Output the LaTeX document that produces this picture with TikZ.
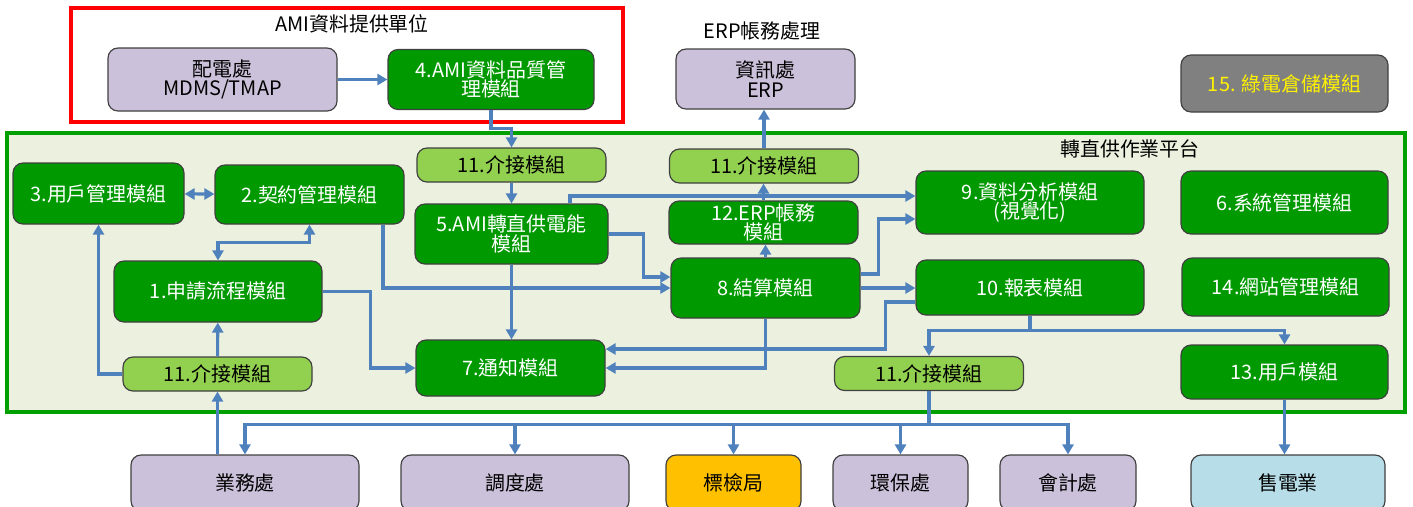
\documentclass[tikz,border=0pt]{standalone}
\usepackage{fontspec}
\setmainfont{Noto Sans CJK TC}
\usetikzlibrary{arrows.meta}

\definecolor{modgreen}{HTML}{009900}
\definecolor{ifgreen}{HTML}{92D050}
\definecolor{unitpurple}{HTML}{CCC1DA}
\definecolor{linkblue}{HTML}{4F81BD}
\definecolor{platbg}{HTML}{EBF1DE}
\definecolor{platline}{HTML}{00A000}
\definecolor{bsmiorange}{HTML}{FFC000}
\definecolor{sellerblue}{HTML}{B7DEE8}
\definecolor{storegray}{HTML}{808080}

\tikzset{
  mod/.style={draw=black!75, line width=1pt, rounded corners=3mm, inner sep=0pt,
    align=center, font=\fontsize{17}{16.5}\selectfont},
  sz/.style 2 args={minimum width=#1*0.3mm, minimum height=#2*0.3mm},
  greenmod/.style={mod, fill=modgreen, text=white},
  ifmod/.style={mod, fill=ifgreen, text=black},
  unit/.style={mod, fill=unitpurple, text=black},
  grouplabel/.style={font=\fontsize{17}{17}\selectfont},
  link/.style={draw=linkblue, line width=2.6pt},
  arr/.style={link, -{Triangle[length=3mm,width=3.3mm]}},
  biarr/.style={link, {Triangle[length=3mm,width=3.3mm]}-{Triangle[length=3mm,width=3.3mm]}}
}

\begin{document}
\begin{tikzpicture}[x=0.3mm, y=-0.3mm]

		\useasboundingbox (0,0) rectangle (1413,506);
		\clip (0,0) rectangle (1413,506);

		\draw[red, line width=2.6pt] (71,8) rectangle (623,122);
		\node[grouplabel] (amilabel) at (352,24) {AMI資料提供單位};
		\node[grouplabel] (erplabel) at (762,31) {ERP帳務處理};
		\draw[platline, line width=2.6pt, fill=platbg] (7,133) rectangle (1405,412);
		\node[grouplabel] (platlabel) at (1130,149) {轉直供作業平台};

		\node[unit, sz={229}{63}] (mdms) at (222.5,79.5) {配電處\\MDMS/TMAP};
		\node[greenmod, sz={206}{60}] (amiq) at (491,79.5) {4.AMI資料品質管\\理模組};
		\node[unit, sz={179}{60}] (erp) at (765.5,79) {資訊處\\ERP};
		\node[mod, fill=storegray, text=yellow, sz={207}{57}] (store15) at (1284.5,83.5) {15. 綠電倉儲模組};

		\foreach \nm/\x/\y in {if11a/511.5/165, if11b/764/166, if11c/217.5/374, if11d/929/373.5}
			\node[ifmod, sz={189}{34}] (\nm) at (\x,\y) {11.介接模組};

		\node[greenmod, sz={171}{61}] (user3) at (98.5,193.5) {3.用戶管理模組};
		\node[greenmod, sz={189}{59}] (contract2) at (309.5,194.5) {2.契約管理模組};
		\node[greenmod, sz={193}{60}] (ami5) at (511.5,234) {5.AMI轉直供電能\\模組};
		\node[greenmod, sz={189}{43}] (erp12) at (763.5,222.5) {12.ERP帳務\\模組};
		\node[greenmod, sz={228}{63}] (ana9) at (1030,202.5) {9.資料分析模組\\(視覺化)};
		\node[greenmod, sz={207}{63}] (sys6) at (1284.5,202.5) {6.系統管理模組};
		\node[greenmod, sz={208}{61}] (apply1) at (218,291.5) {1.申請流程模組};
		\node[greenmod, sz={189}{60}] (settle8) at (765.5,288) {8.結算模組};
		\node[greenmod, sz={228}{55}] (report10) at (1030,287.5) {10.報表模組};
		\node[greenmod, sz={207}{58}] (web14) at (1285.5,287) {14.網站管理模組};
		\node[greenmod, sz={189}{56}] (notice7) at (510.5,368) {7.通知模組};
		\node[greenmod, sz={207}{54}] (cust13) at (1284.5,372) {13.用戶模組};

		\foreach \nm/\x/\w/\col/\txt in {biz/245/228/unitpurple/業務處, dispatch/515/228/unitpurple/調度處,
				bsmi/733.5/135/bsmiorange/標檢局, epa/900.5/135/unitpurple/環保處,
				acct/1068/136/unitpurple/會計處, seller/1288/194/sellerblue/售電業}
			\node[mod, fill=\col, sz={\w}{56}] (\nm) at (\x,483) {\txt};

		\draw[arr] (mdms) -- (amiq);
		\draw[arr] (amiq.south) -- ++(0,18) -| (if11a.north);
		\draw[arr] (if11a) -- (ami5);
		\draw[biarr] (user3) -- (contract2);
		\draw[biarr] (apply1.north) -- ++(0,-18) -| (contract2.south);
		\draw[arr] (if11c.west) -| (user3.south);
		\draw[arr] (if11c) -- (apply1);
		\draw[arr] (if11c.south |- biz.north) -- (if11c.south);
		\draw[arr] (apply1.east) -- ++(48,0) |- (notice7.west);
		\draw[arr] (contract2.south) ++(73.5,0) |- (settle8.west);
		\draw[arr] (ami5.east) -- ++(35,0) |- ([yshift=3.3mm]settle8.west);
		\draw[arr] (ami5.north) ++(58.5,0) |- ([yshift=1.95mm]ana9.west);
		\draw[arr] (ami5) -- (ami5 |- notice7.north);
		\draw[arr] (settle8) -- (settle8 |- erp12.south);
		\draw[arr] (erp12) -- (erp12 |- if11b.south);
		\draw[arr] (if11b) -- (if11b |- erp.south);
		\draw[arr] ([yshift=4.2mm]settle8.east) -- ++(18,0) |- ([yshift=-4.95mm]ana9.west);
		\draw[arr] (settle8.east) -- (settle8.east -| report10.west);
		\draw[arr] ([yshift=-4.35mm]report10.west) -- ++(-30,0) |- ([yshift=5.7mm]notice7.east);
		\draw[arr] (settle8.south) |- (notice7.east);
		\draw[arr] (report10.south) -- ++(0,15) -| (if11d.north);
		\draw[arr] (report10.south) -- ++(0,15) -| (cust13.north);
		\draw[link] (if11d.south) -- ++(0,33) coordinate (bus);
		\foreach \nm in {biz,dispatch,bsmi,epa,acct}
			\draw[arr] (bus) -| (\nm.north);
		\draw[arr] (cust13) -- (cust13 |- seller.north);

\end{tikzpicture}
\end{document}
